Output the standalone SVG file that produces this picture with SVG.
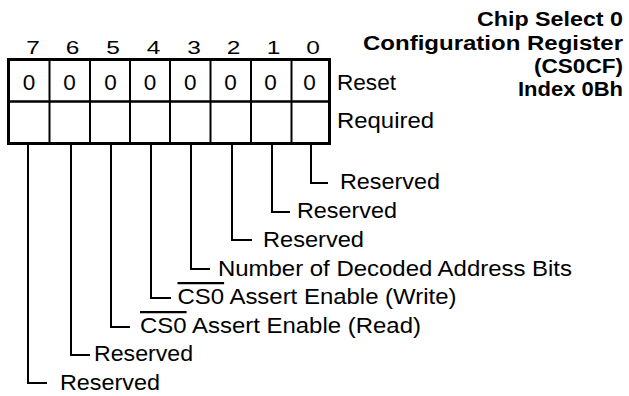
<svg xmlns="http://www.w3.org/2000/svg" width="629" height="396" viewBox="0 0 629 396">
<style>
text{font-family:"Liberation Sans",Arial,Helvetica,sans-serif;fill:#000}
.t{font-size:20px;font-weight:bold}
.bn{font-size:19px}
.v{font-size:22.5px;text-anchor:middle}
.l{font-size:22.5px}
.ol{text-decoration:overline}
.box{fill:#fff;stroke:#000;stroke-width:3}
.in{stroke:#000;stroke-width:2}
.lead{fill:none;stroke:#000;stroke-width:2;stroke-linejoin:miter;stroke-linecap:butt}
</style>
<rect width="629" height="396" fill="#fff"/>
<g id="title">
<text class="t" x="477" y="26" textLength="146" lengthAdjust="spacingAndGlyphs">Chip Select 0</text>
<text class="t" x="363" y="49.5" textLength="260" lengthAdjust="spacingAndGlyphs">Configuration Register</text>
<text class="t" x="534" y="73" textLength="89" lengthAdjust="spacingAndGlyphs">(CS0CF)</text>
<text class="t" x="518" y="96" textLength="105" lengthAdjust="spacingAndGlyphs">Index 0Bh</text>
</g>
<g id="bit-numbers">
<text class="bn" x="26.2" y="53.5" textLength="13.6" lengthAdjust="spacingAndGlyphs">7</text>
<text class="bn" x="65.7" y="53.5" textLength="13.6" lengthAdjust="spacingAndGlyphs">6</text>
<text class="bn" x="106.2" y="53.5" textLength="13.6" lengthAdjust="spacingAndGlyphs">5</text>
<text class="bn" x="146.7" y="53.5" textLength="13.6" lengthAdjust="spacingAndGlyphs">4</text>
<text class="bn" x="187.2" y="53.5" textLength="13.6" lengthAdjust="spacingAndGlyphs">3</text>
<text class="bn" x="226.7" y="53.5" textLength="13.6" lengthAdjust="spacingAndGlyphs">2</text>
<text class="bn" x="266.7" y="53.5" textLength="13.6" lengthAdjust="spacingAndGlyphs">1</text>
<text class="bn" x="306.2" y="53.5" textLength="13.6" lengthAdjust="spacingAndGlyphs">0</text>
</g>
<g id="register">
<rect class="box" x="8.5" y="59.5" width="321" height="84"/>
<line class="in" x1="8.5" y1="101.5" x2="329.5" y2="101.5" style="stroke-width:2.6"/>
<line class="in" x1="49.5" y1="59.5" x2="49.5" y2="143.5"/>
<line class="in" x1="90" y1="59.5" x2="90" y2="143.5"/>
<line class="in" x1="130" y1="59.5" x2="130" y2="143.5"/>
<line class="in" x1="170" y1="59.5" x2="170" y2="143.5"/>
<line class="in" x1="210.5" y1="59.5" x2="210.5" y2="143.5"/>
<line class="in" x1="251" y1="59.5" x2="251" y2="143.5"/>
<line class="in" x1="291.5" y1="59.5" x2="291.5" y2="143.5"/>
<text class="v" x="29" y="89.5">0</text>
<text class="v" x="69.5" y="89.5">0</text>
<text class="v" x="110.5" y="89.5">0</text>
<text class="v" x="150" y="89.5">0</text>
<text class="v" x="190.3" y="89.5">0</text>
<text class="v" x="230.5" y="89.5">0</text>
<text class="v" x="270.5" y="89.5">0</text>
<text class="v" x="309.5" y="89.5">0</text>
</g>
<g id="row-labels">
<text class="l" x="337" y="89.5" textLength="59" lengthAdjust="spacingAndGlyphs">Reset</text>
<text class="l" x="337" y="128" textLength="97" lengthAdjust="spacingAndGlyphs">Required</text>
</g>
<g id="connectors">
<polyline class="lead" points="311,144.5 311,183 328,183"/>
<polyline class="lead" points="272,144.5 272,212 290,212"/>
<polyline class="lead" points="232,144.5 232,240 252,240"/>
<polyline class="lead" points="191,144.5 191,269 210,269"/>
<polyline class="lead" points="151,144.5 151,298 171,298"/>
<polyline class="lead" points="111,144.5 111,327 130,327"/>
<polyline class="lead" points="71,144.5 71,355 90,355"/>
<polyline class="lead" points="28,144.5 28,383 47,383"/>
</g>
<g id="field-bit0"><text class="l" x="340" y="189" textLength="100" lengthAdjust="spacingAndGlyphs">Reserved</text></g>
<g id="field-bit1"><text class="l" x="297" y="218" textLength="100" lengthAdjust="spacingAndGlyphs">Reserved</text></g>
<g id="field-bit2"><text class="l" x="263" y="246.5" textLength="101" lengthAdjust="spacingAndGlyphs">Reserved</text></g>
<g id="field-bit3"><text class="l" x="218" y="275.5" textLength="354" lengthAdjust="spacingAndGlyphs">Number of Decoded Address Bits</text></g>
<g id="field-bit4"><text class="l" x="177.5" y="304" textLength="279" lengthAdjust="spacingAndGlyphs"><tspan class="ol">CS0</tspan> Assert Enable (Write)</text></g>
<g id="field-bit5"><text class="l" x="140" y="333" textLength="281" lengthAdjust="spacingAndGlyphs"><tspan class="ol">CS0</tspan> Assert Enable (Read)</text></g>
<g id="field-bit6"><text class="l" x="94" y="361" textLength="99" lengthAdjust="spacingAndGlyphs">Reserved</text></g>
<g id="field-bit7"><text class="l" x="60" y="389.5" textLength="100" lengthAdjust="spacingAndGlyphs">Reserved</text></g>
</svg>
